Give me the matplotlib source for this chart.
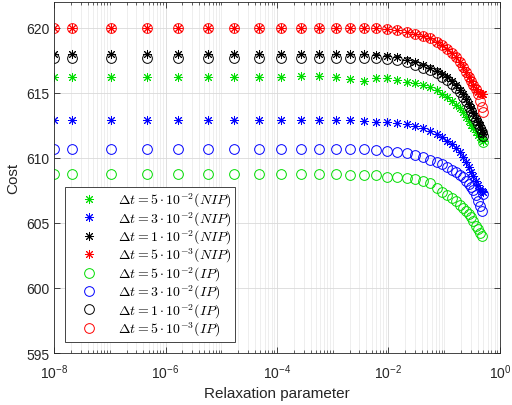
import matplotlib
matplotlib.use("Agg")
import matplotlib.pyplot as plt
from matplotlib.ticker import LogLocator, NullFormatter, FixedLocator

plt.rcParams['font.family'] = ['Liberation Sans', 'DejaVu Sans']
plt.rcParams['mathtext.fontset'] = 'cm'

# Relaxation parameter values
relax = [1e-8, 2.1e-8, 1.05e-7, 4.7e-7, 1.7e-6, 5.8e-6, 1.7e-5, 4.8e-5, 1.18e-4, 2.7e-4,
         5.7e-4, 1.14e-3, 2.04e-3, 3.64e-3, 5.97e-3, 9.4e-3, 1.42e-2, 2.15e-2, 2.99e-2, 4.16e-2,
         5.55e-2, 7.41e-2, 9.12e-2, 0.112, 0.138, 0.163, 0.192, 0.217, 0.245, 0.278,
         0.302, 0.328, 0.371, 0.403, 0.438, 0.475, 0.5]

nip_5e2 = [616.2, 616.2, 616.2, 616.2, 616.2, 616.2, 616.2, 616.2, 616.25, 616.3,
           616.3, 616.2, 616.1, 615.95, 616.15, 616.15, 616.0, 615.85, 615.75, 615.6,
           615.45, 615.2, 614.95, 614.7, 614.4, 614.1, 613.8, 613.5, 613.15, 612.85,
           612.55, 612.3, 612.0, 611.8, 611.6, 611.45, 611.3]
nip_3e2 = [612.9, 612.9, 612.9, 612.9, 612.9, 612.9, 612.9, 612.9, 612.9, 612.9,
           612.9, 612.9, 612.9, 612.85, 612.8, 612.75, 612.7, 612.6, 612.45, 612.3,
           612.1, 611.85, 611.6, 611.3, 611.05, 610.75, 610.45, 610.1, 609.7, 609.3,
           608.95, 608.6, 608.2, 607.9, 607.6, 607.45, 607.35]
nip_1e2 = [618.0, 618.0, 618.0, 618.0, 618.0, 618.0, 618.0, 618.0, 618.0, 618.0,
           618.0, 618.0, 618.0, 618.0, 617.95, 617.85, 617.75, 617.55, 617.35, 617.15,
           616.95, 616.7, 616.45, 616.2, 615.9, 615.6, 615.25, 614.9, 614.55, 614.15,
           613.8, 613.45, 613.1, 612.8, 612.5, 612.15, 611.85]
nip_5e3 = [620.0, 620.0, 620.0, 620.0, 620.0, 620.0, 620.0, 620.0, 620.0, 620.0,
           620.0, 620.0, 620.0, 620.0, 620.0, 619.9, 619.8, 619.7, 619.55, 619.4,
           619.2, 618.95, 618.7, 618.4, 618.05, 617.75, 617.35, 617.0, 616.6, 616.2,
           615.9, 615.6, 615.3, 615.1, 615.0, 614.95, 614.95]

ip_5e2 = [608.8, 608.8, 608.8, 608.8, 608.8, 608.8, 608.8, 608.8, 608.8, 608.8,
          608.8, 608.75, 608.7, 608.7, 608.65, 608.55, 608.5, 608.45, 608.35, 608.2,
          608.05, 607.7, 607.4, 607.15, 606.9, 606.7, 606.4, 606.15, 605.9, 605.7,
          605.45, 605.15, 604.8, 604.5, 604.2, 604.0, 611.2]
ip_3e2 = [610.7, 610.7, 610.7, 610.7, 610.7, 610.7, 610.7, 610.7, 610.7, 610.7,
          610.7, 610.7, 610.7, 610.65, 610.6, 610.55, 610.45, 610.35, 610.25, 610.1,
          609.85, 609.7, 609.5, 609.3, 609.1, 608.95, 608.7, 608.5, 608.25, 608.0,
          607.75, 607.5, 607.15, 606.7, 606.3, 605.9, 607.2]
ip_1e2 = [617.7, 617.7, 617.7, 617.7, 617.7, 617.7, 617.7, 617.7, 617.7, 617.7,
          617.7, 617.7, 617.7, 617.7, 617.7, 617.6, 617.5, 617.35, 617.15, 616.95,
          616.75, 616.5, 616.25, 616.0, 615.7, 615.4, 615.05, 614.7, 614.35, 613.95,
          613.6, 613.25, 612.9, 612.6, 612.3, 612.0, 611.7]
ip_5e3 = [620.0, 620.0, 620.0, 620.0, 620.0, 620.0, 620.0, 620.0, 620.0, 620.0,
          620.0, 620.0, 620.0, 620.0, 620.0, 619.9, 619.8, 619.7, 619.55, 619.4,
          619.2, 618.95, 618.7, 618.4, 618.05, 617.75, 617.35, 617.0, 616.6, 616.2,
          615.9, 615.6, 615.3, 614.9, 614.4, 613.9, 613.5]

labels = [r'$\Delta t = 5\cdot 10^{-2} (NIP)$', r'$\Delta t = 3\cdot 10^{-2} (NIP)$',
          r'$\Delta t = 1\cdot 10^{-2} (NIP)$', r'$\Delta t = 5\cdot 10^{-3} (NIP)$',
          r'$\Delta t = 5\cdot 10^{-2} (IP)$', r'$\Delta t = 3\cdot 10^{-2} (IP)$',
          r'$\Delta t = 1\cdot 10^{-2} (IP)$', r'$\Delta t = 5\cdot 10^{-3} (IP)$']
colors = ['#00dd00', '#0000ff', '#000000', '#ff0000']

fig = plt.figure(figsize=(5.12, 4.06), dpi=100)
ax = fig.add_axes([0.1055, 0.128, 0.871, 0.865])

star = (8, 2, 0)
for y, c, lab in zip([nip_5e2, nip_3e2, nip_1e2, nip_5e3], colors, labels[:4]):
    ax.plot(relax, y, linestyle='none', marker=star, markersize=6.5, markeredgewidth=0.7,
            color=c, label=lab)
for y, c, lab in zip([ip_5e2, ip_3e2, ip_1e2, ip_5e3], colors, labels[4:]):
    ax.plot(relax, y, linestyle='none', marker='o', markersize=7, markeredgewidth=0.7,
            markerfacecolor='none', markeredgecolor=c, label=lab)

ax.set_xscale('log')
ax.set_xlim(1e-8, 1)
ax.set_ylim(595, 622)
ax.xaxis.set_major_locator(FixedLocator([1e-8, 1e-6, 1e-4, 1e-2, 1]))
ax.xaxis.set_minor_locator(LogLocator(base=10, subs=(1, 2, 3, 4, 5, 6, 7, 8, 9), numticks=100))
ax.xaxis.set_minor_formatter(NullFormatter())
ax.set_yticks([595, 600, 605, 610, 615, 620])

ax.grid(True, which='major', color='#d9d9d9', linewidth=0.6)
ax.grid(True, which='minor', color='#e8e8e8', linewidth=0.5)
ax.set_axisbelow(True)

axc = '#262626'
for s in ax.spines.values():
    s.set_color(axc)
    s.set_linewidth(0.6)
ax.tick_params(which='both', direction='in', top=True, right=True, colors=axc,
               labelsize=10, labelcolor=axc)
ax.tick_params(which='major', length=4, width=0.6)
ax.tick_params(which='minor', length=2, width=0.5)
ax.tick_params(axis='x', which='major', pad=7)

ax.set_xlabel('Relaxation parameter', fontsize=11, color=axc, labelpad=3)
ax.set_ylabel('Cost', fontsize=11, color=axc, labelpad=4)

leg = ax.legend(loc='lower left', fontsize=10, frameon=True, fancybox=False,
                edgecolor=axc, framealpha=1, labelspacing=0.0, handletextpad=0.6,
                borderpad=0.3, handlelength=2.9, borderaxespad=0,
                bbox_to_anchor=(0.025, 0.031))
leg.get_frame().set_linewidth(0.6)

fig.savefig('out.png', dpi=100)
